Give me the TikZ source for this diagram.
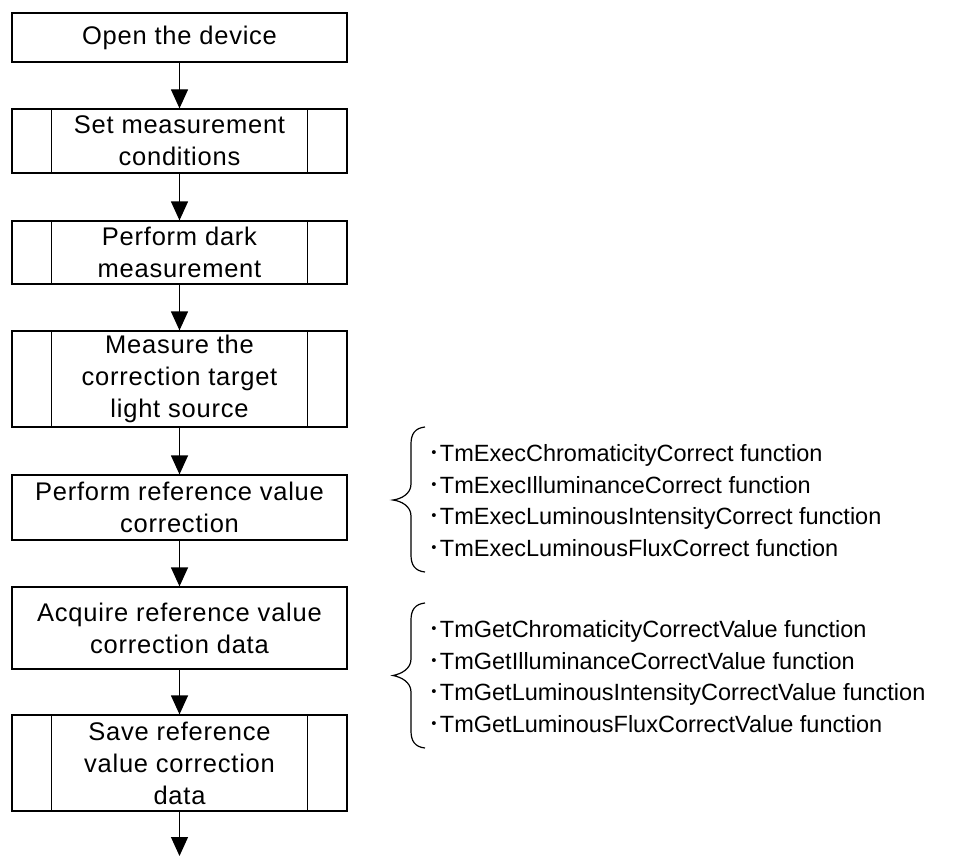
\documentclass[tikz,border=0pt]{standalone}
\usepackage{fontspec}
\setmainfont{Liberation Sans}
\newfontfamily\boxfont[LetterSpace=3]{Liberation Sans}
\newfontfamily\cjk{Noto Sans CJK JP}
\usetikzlibrary{arrows.meta}
\tikzset{
  every picture/.style={x=1pt,y=-1pt},
  procbox/.style={draw, line width=1.2pt, minimum width=335pt, inner sep=0pt,
    align=center, font=\boxfont\fontsize{25.5}{32}\selectfont},
  flow/.style={line width=1.2pt, -{Triangle[width=17pt,length=19pt]}},
  brace/.style={line width=1.2pt},
  funclist/.style={anchor=west, align=left, inner sep=0pt,
    font=\fontsize{23.5}{31.7}\selectfont},
}
\newcommand{\subproc}[1]{%
  \draw[line width=1.2pt] ([xshift=40pt]#1.north west) -- ([xshift=40pt]#1.south west);
  \draw[line width=1.2pt] ([xshift=-40pt]#1.north east) -- ([xshift=-40pt]#1.south east);}
% half-width middle dot used as list bullet
\newcommand{\bul}{{\cjk ･}}
\begin{document}
\begin{tikzpicture}
\useasboundingbox (0,0) rectangle (953,856);
\fill[white] (0,0) rectangle (953,856);

\node[procbox, minimum height=49pt] (b1) at (179.5,37.5) {Open the device};
\node[procbox, minimum height=64pt] (b2) at (179.5,141) {Set measurement\\conditions};
\node[procbox, minimum height=63pt] (b3) at (179.5,252.5) {Perform dark\\measurement};
\node[procbox, minimum height=96pt] (b4) at (179.5,379) {Measure the\\correction target\\light source};
\node[procbox, minimum height=65pt] (b5) at (179.5,507.5) {Perform reference value\\correction};
\node[procbox, minimum height=82pt] (b6) at (179.5,628) {Acquire reference value\\correction data};
\node[procbox, minimum height=96pt] (b7) at (179.5,763) {Save reference\\value correction\\data};
\coordinate (end) at (179.5,856);

\subproc{b2}
\subproc{b3}
\subproc{b4}
\subproc{b7}

\draw[flow] (b1) -- (b2);
\draw[flow] (b2) -- (b3);
\draw[flow] (b3) -- (b4);
\draw[flow] (b4) -- (b5);
\draw[flow] (b5) -- (b6);
\draw[flow] (b6) -- (b7);
\draw[flow] (b7) -- (end);

% curly braces grouping the function lists
\draw[brace] (425,427) .. controls (415,428) and (411,434) .. (411,444)
  -- (411,484) .. controls (411,494) and (401,499) .. (393,500)
  .. controls (401,501) and (411,506) .. (411,516)
  -- (411,555) .. controls (411,565) and (415,571) .. (425,572);
\draw[brace] (425,603) .. controls (415,604) and (411,610) .. (411,620)
  -- (411,659) .. controls (411,669) and (401,674) .. (393,675.5)
  .. controls (401,677) and (411,682) .. (411,692)
  -- (411,731) .. controls (411,741) and (415,747) .. (425,748);

\node[funclist] (f1) at (428,500.5) {%
  \bul TmExecChromaticityCorrect function\\
  \bul TmExecIlluminanceCorrect function\\
  \bul TmExecLuminousIntensityCorrect function\\
  \bul TmExecLuminousFluxCorrect function};
\node[funclist] (f2) at (428,676.5) {%
  \bul TmGetChromaticityCorrectValue function\\
  \bul TmGetIlluminanceCorrectValue function\\
  \bul TmGetLuminousIntensityCorrectValue function\\
  \bul TmGetLuminousFluxCorrectValue function};
\end{tikzpicture}
\end{document}
